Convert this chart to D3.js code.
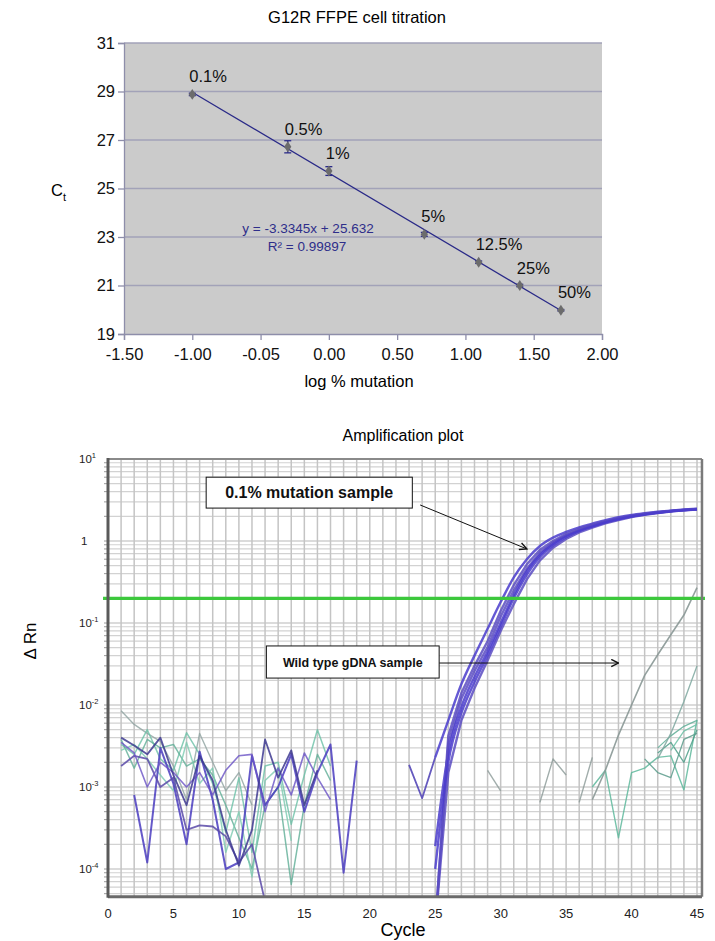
<!DOCTYPE html>
<html>
<head>
<meta charset="utf-8">
<script src="https://cdn.jsdelivr.net/npm/d3@7"></script>
<style>
  body { margin: 0; background: #fff; font-family: "Liberation Sans", Arial, Helvetica, sans-serif; }
  svg { display: block; }
</style>
</head>
<body>
<svg id="chart" width="715" height="941"></svg>
<script>
// -------------------------
// Top chart data (standard curve)
// -------------------------
const pctLabels = ["0.1%", "0.5%", "1%", "5%", "12.5%", "25%", "50%"];
const logPct = [-1, -0.301, 0, 0.699, 1.097, 1.398, 1.699];
const ctValues = [28.88, 26.72, 25.72, 23.11, 21.96, 21.0, 19.98];
const ctErr = [0.05, 0.25, 0.18, 0.08, 0.05, 0.05, 0.03];
const xTickVals = [-1.5, -1, -0.5, 0, 0.5, 1, 1.5, 2];
const xTickText = ["-1.50", "-1.00", "-0.05", "0.00", "0.50", "1.00", "1.50", "2.00"];
const yTickVals = [19, 21, 23, 25, 27, 29, 31];
const fitSlope = -3.3345;
const fitIntercept = 25.632;

// -------------------------
// Bottom chart data (amplification plot)
// -------------------------
const cycles = [25, 26, 27, 28, 29, 30, 31, 32, 33, 34, 35, 36, 37, 38, 39, 40, 41, 42, 43, 44, 45];
const mutA = [2e-5, 0.0034, 0.012, 0.026, 0.051, 0.12, 0.25, 0.46, 0.72, 0.96, 1.18, 1.37, 1.55, 1.72, 1.88, 2.02, 2.13, 2.23, 2.32, 2.39, 2.45];
const mutB = [2.3e-3, 6.5e-3, 0.018, 0.04, 0.085, 0.18, 0.36, 0.6, 0.87, 1.1, 1.29, 1.47, 1.63, 1.8, 1.95, 2.08, 2.18, 2.27, 2.35, 2.42, 2.48];
const mutC = [2e-5, 1.5e-3, 6.5e-3, 0.016, 0.035, 0.08, 0.17, 0.34, 0.58, 0.83, 1.06, 1.27, 1.46, 1.64, 1.8, 1.96, 2.08, 2.19, 2.29, 2.36, 2.42];
const mutD = [1.9e-4, 2.6e-3, 9.5e-3, 0.022, 0.045, 0.1, 0.22, 0.43, 0.68, 0.92, 1.15, 1.35, 1.52, 1.7, 1.86, 2.0, 2.12, 2.22, 2.31, 2.38, 2.44];
const mutE = [2e-5, 4.2e-3, 0.014, 0.03, 0.06, 0.14, 0.29, 0.52, 0.78, 1.0, 1.22, 1.41, 1.58, 1.75, 1.9, 2.04, 2.15, 2.25, 2.33, 2.4, 2.46];
const mutF = [1e-4, 2e-3, 8e-3, 0.019, 0.04, 0.09, 0.2, 0.39, 0.64, 0.88, 1.11, 1.32, 1.5, 1.68, 1.84, 1.99, 2.1, 2.21, 2.3, 2.37, 2.43];
const mutLead = [[23, 1.86e-3], [24, 7.3e-4], [25, 2.3e-3]];

// baseline noise traces, [cycle, delta Rn]
const noiseP1 = [[2, 8e-4], [3, 1.2e-4], [4, 3.0e-3], [5, 1.1e-3], [6, 2.0e-4], [7, 2.7e-3], [8, 7e-4], [9, 1e-4], [10, 1.2e-4], [11, 2.4e-3], [12, 6e-4], [13, 1.0e-3], [14, 2.5e-3], [15, 5e-4], [16, 1.5e-3], [17, 3.3e-3], [18, 9e-5], [19, 2.1e-3]];
const noiseP2 = [[1, 1.8e-3], [2, 2.4e-3], [3, 2.2e-3], [4, 1.0e-3], [5, 1.3e-3], [6, 3.0e-4], [7, 3.4e-4], [8, 3.3e-4], [9, 2.5e-4], [10, 1.2e-4], [11, 2.0e-4], [12, 4e-5]];
const noiseP3 = [[1, 3.5e-3], [2, 2.6e-3], [3, 1.0e-3], [4, 2.0e-3], [5, 1.5e-3], [6, 1.0e-3], [7, 1.5e-3], [8, 8e-4], [9, 1.6e-3], [10, 2.4e-3], [11, 2.5e-3], [12, 5e-4], [13, 1.7e-3], [14, 8e-4], [15, 2.6e-3], [16, 1.3e-3], [17, 7e-4]];
const noiseP4 = [[1, 4e-3], [2, 3.2e-3], [3, 2.5e-3], [4, 4.0e-3], [5, 1.4e-3], [6, 6e-4], [7, 2.4e-3], [8, 1.2e-3], [9, 3e-4], [10, 1.1e-4], [11, 3e-4], [12, 3.8e-3], [13, 1.3e-3], [14, 2.8e-3], [15, 6e-4], [16, 1.6e-3]];
const noiseT1 = [[1, 8.5e-3], [2, 5.8e-3], [3, 4.5e-3], [4, 3.6e-3], [5, 1.8e-3], [6, 7e-4], [7, 4.5e-3], [8, 2e-3], [9, 9e-4], [10, 1.5e-3], [11, 6e-4]];
const noiseT2 = [[1, 3.3e-3], [2, 2.5e-3], [3, 5e-3], [4, 2.2e-3], [5, 1.6e-3], [6, 4.6e-3], [7, 2.5e-3], [8, 1.1e-3], [9, 2.8e-4], [10, 1.3e-3], [11, 1.6e-4], [12, 1.8e-3], [13, 2.0e-3], [14, 3.5e-4], [15, 1.4e-3], [16, 5e-3], [17, 1.8e-3]];
const noiseT3 = [[1, 3.8e-3], [2, 1.7e-3], [3, 3.8e-3], [4, 3.0e-3], [5, 3.3e-3], [6, 1.8e-3], [7, 2.2e-3], [8, 1.4e-3], [9, 6e-4], [10, 2.4e-4], [11, 1.0e-4], [12, 6e-4], [13, 1.0e-3], [14, 6.5e-5], [15, 6e-4], [16, 2.5e-3], [17, 1.2e-3]];
const noiseT4 = [[1, 2.8e-3], [2, 3.3e-3], [3, 2.2e-3], [4, 1.4e-3], [5, 9e-4], [6, 3.5e-3], [7, 1.1e-3], [8, 1.7e-3], [9, 1.6e-4], [10, 5e-4], [11, 8e-5], [12, 1.2e-3], [13, 1.7e-3], [14, 2.2e-4]];

// late wild type traces
const lateG1 = [[29, 1.6e-3], [30, 9e-4]];
const lateG2 = [[33, 6.5e-4], [34, 2.2e-3], [35, 1.4e-3]];
const lateG3 = [[36, 6.5e-4], [37, 2.3e-3]];
const wtRise = [[37, 7e-4], [38, 1.6e-3], [39, 4.3e-3], [40, 1.0e-2], [41, 2.3e-2], [42, 4.1e-2], [43, 7.2e-2], [44, 0.125], [45, 0.27]];
const wtRise2 = [[42, 2.2e-3], [43, 4.5e-3], [44, 0.011], [45, 0.03]];
const wtT1 = [[37, 1.0e-3], [38, 1.6e-3], [39, 2.4e-4], [40, 1.5e-3], [41, 1.7e-3], [42, 2.3e-3], [43, 2.4e-3], [44, 9.2e-4], [45, 6.6e-3]];
const wtT2 = [[42, 3.0e-3], [43, 4.2e-3], [44, 5.5e-3], [45, 6.5e-3]];
const wtT3 = [[42, 2.6e-3], [43, 3.5e-3], [44, 2.0e-3], [45, 5.0e-3]];
const wtT4 = [[43, 2.8e-3], [44, 4.8e-3], [45, 5.8e-3]];
const wtT5 = [[41, 2.2e-3], [42, 1.5e-3], [43, 1.3e-3], [44, 3.8e-3], [45, 4.5e-3]];

const threshold = 0.2;
const cycleTicks = [0, 5, 10, 15, 20, 25, 30, 35, 40, 45];
const decadeTicks = [1e-4, 1e-3, 1e-2, 1e-1, 1, 10];
const decadeExp = ["-4", "-3", "-2", "-1", null, "1"];

const noteBoxes = [
  { text: "0.1% mutation sample", c0: 7.5, c1: 23.25, v0: 6.0, v1: 2.52, size: 16 },
  { text: "Wild type gDNA sample", c0: 12.1, c1: 25.3, v0: 0.0525, v1: 0.0213, size: 12.5 }
];
const noteArrows = [
  { from: [23.85, 2.75], to: [32.0, 0.80] },
  { from: [25.3, 0.0325], to: [39.0, 0.0325] }
];

const svg = d3.select('#chart');

// -------------------------
// Top chart
// -------------------------
const x1 = d3.scaleLinear().domain([-1.5, 2]).range([124, 602]);
const y1 = d3.scaleLinear().domain([19, 31]).range([334, 43]);

svg.append('text')
  .attr('x', 357).attr('y', 23)
  .attr('text-anchor', 'middle')
  .attr('font-size', 16.5)
  .text('G12R FFPE cell titration');

svg.append('rect')
  .attr('x', x1(-1.5)).attr('y', y1(31))
  .attr('width', x1(2) - x1(-1.5)).attr('height', y1(19) - y1(31))
  .attr('fill', '#cbcbcb');

// horizontal gridlines
svg.append('g').selectAll('line')
  .data(yTickVals.slice(1))
  .join('line')
  .attr('x1', x1(-1.5)).attr('x2', x1(2))
  .attr('y1', d => y1(d)).attr('y2', d => y1(d))
  .attr('stroke', '#a2a2b8').attr('stroke-width', 1.3);

const xAxis1 = svg.append('g')
  .attr('transform', `translate(0,${y1(19)})`)
  .call(d3.axisBottom(x1).tickValues(xTickVals).tickFormat((d, i) => xTickText[i]).tickSize(6).tickPadding(8));
const yAxis1 = svg.append('g')
  .attr('transform', `translate(${x1(-1.5)},0)`)
  .call(d3.axisLeft(y1).tickValues(yTickVals).tickSize(6).tickPadding(3));
[xAxis1, yAxis1].forEach(g => {
  g.select('.domain').attr('stroke', '#8e8eaa').attr('stroke-width', 1.3);
  g.selectAll('.tick line').attr('stroke', '#8e8eaa').attr('stroke-width', 1.3);
  g.selectAll('.tick text').attr('font-size', 16.5).attr('fill', '#111')
    .attr('font-family', '"Liberation Sans", Arial, sans-serif');
});

// trend line
svg.append('line')
  .attr('x1', x1(logPct[0])).attr('y1', y1(fitSlope * logPct[0] + fitIntercept))
  .attr('x2', x1(logPct[6])).attr('y2', y1(fitSlope * logPct[6] + fitIntercept))
  .attr('stroke', '#2a2a88').attr('stroke-width', 1.3);

// error bars
const errG = svg.append('g').attr('stroke', '#2a2a88').attr('stroke-width', 1.3);
logPct.forEach((lx, i) => {
  const cx = x1(lx);
  const top = y1(ctValues[i] + ctErr[i]);
  const bot = y1(ctValues[i] - ctErr[i]);
  errG.append('line').attr('x1', cx).attr('x2', cx).attr('y1', top).attr('y2', bot);
  errG.append('line').attr('x1', cx - 3.5).attr('x2', cx + 3.5).attr('y1', top).attr('y2', top);
  errG.append('line').attr('x1', cx - 3.5).attr('x2', cx + 3.5).attr('y1', bot).attr('y2', bot);
});

// markers
svg.append('g').selectAll('path')
  .data(logPct)
  .join('path')
  .attr('d', d3.symbol(d3.symbolDiamond, 34))
  .attr('transform', (d, i) => `translate(${x1(d)},${y1(ctValues[i])}) scale(1.15,1)`)
  .attr('fill', '#6c6c6c');

// point labels
svg.append('g').selectAll('text')
  .data(pctLabels)
  .join('text')
  .attr('x', (d, i) => x1(logPct[i]) - 3)
  .attr('y', (d, i) => y1(ctValues[i]) - 12)
  .attr('font-size', 16.5)
  .attr('fill', '#111')
  .text(d => d);

// equation
svg.append('text')
  .attr('x', 308).attr('y', 233)
  .attr('text-anchor', 'middle').attr('font-size', 13.5).attr('fill', '#2e2e8a')
  .text('y = -3.3345x + 25.632');
svg.append('text')
  .attr('x', 307).attr('y', 251)
  .attr('text-anchor', 'middle').attr('font-size', 13.5).attr('fill', '#2e2e8a')
  .text('R² = 0.99897');

// axis titles
svg.append('text')
  .attr('x', x1(0.25) - 4).attr('y', 387)
  .attr('text-anchor', 'middle').attr('font-size', 16.5)
  .text('log % mutation');
const ctLabel = svg.append('text').attr('x', 51).attr('y', 196).attr('font-size', 16.5);
ctLabel.append('tspan').text('C');
ctLabel.append('tspan').attr('font-size', 11).attr('dy', 5).text('t');

// -------------------------
// Bottom chart
// -------------------------
const x2 = d3.scaleLinear().domain([0, 45]).range([108, 697]);
const y2 = d3.scaleLog().domain([1e-4, 10]).range([869, 459]);
const xEnd = 45.38;
const yBottom = 4.6e-5;
const plotL = x2(0), plotR = x2(xEnd), plotT = y2(10), plotB = y2(yBottom);

svg.append('text')
  .attr('x', 403).attr('y', 441)
  .attr('text-anchor', 'middle').attr('font-size', 16)
  .text('Amplification plot');

svg.append('defs').append('clipPath').attr('id', 'plotClip')
  .append('rect')
  .attr('x', plotL).attr('y', plotT)
  .attr('width', plotR - plotL).attr('height', plotB - plotT);

// grid
const grid = svg.append('g');
const minorVals = [];
[1e-5, 1e-4, 1e-3, 1e-2, 1e-1, 1].forEach(dec => {
  for (let m = 1; m <= 9; m++) minorVals.push(dec * m);
});
grid.selectAll('line.h')
  .data(minorVals.filter(v => v >= yBottom && v <= 10))
  .join('line')
  .attr('class', 'h')
  .attr('x1', plotL).attr('x2', plotR)
  .attr('y1', d => y2(d)).attr('y2', d => y2(d))
  .attr('stroke', d => decadeTicks.some(t => Math.abs(t - d) / t < 1e-6) ? '#b8b8b8' : '#d2d2d2')
  .attr('stroke-width', 1.2);
grid.selectAll('line.v')
  .data(d3.range(1, 46))
  .join('line')
  .attr('class', 'v')
  .attr('x1', d => x2(d)).attr('x2', d => x2(d))
  .attr('y1', plotT).attr('y2', plotB)
  .attr('stroke', '#c4c4c4').attr('stroke-width', 1.5);
// left ruler ticks
grid.selectAll('line.r')
  .data(minorVals.filter(v => v >= yBottom && v <= 10))
  .join('line')
  .attr('class', 'r')
  .attr('x1', plotL - 4).attr('x2', plotL)
  .attr('y1', d => y2(d)).attr('y2', d => y2(d))
  .attr('stroke', '#9a9a9a').attr('stroke-width', 1);

// traces
const plot = svg.append('g').attr('clip-path', 'url(#plotClip)');
const line2 = d3.line()
  .defined(d => d[1] != null)
  .curve(d3.curveMonotoneX)
  .x(d => x2(d[0]))
  .y(d => y2(d[1]));
const jag = d3.line()
  .defined(d => d[1] != null)
  .x(d => x2(d[0]))
  .y(d => y2(d[1]));

function drawTrace(pts, color, width, opacity, gen = jag) {
  plot.append('path')
    .datum(pts)
    .attr('d', gen)
    .attr('fill', 'none')
    .attr('stroke', color)
    .attr('stroke-width', width)
    .attr('stroke-opacity', opacity)
    .attr('stroke-linejoin', 'round');
}

// baseline noise
drawTrace(noiseT1, '#8fa3a0', 1.4, 0.8);
drawTrace(noiseT2, '#6cc0a6', 1.5, 0.8);
drawTrace(noiseT3, '#5fae96', 1.5, 0.8);
drawTrace(noiseT4, '#7ccab0', 1.5, 0.8);
drawTrace(noiseP1, '#4a3cc0', 2, 0.85);
drawTrace(noiseP2, '#5b4aa8', 1.8, 0.85);
drawTrace(noiseP3, '#6a52c6', 1.6, 0.8);
drawTrace(noiseP4, '#3e3a90', 1.8, 0.85);

// late wild type traces
drawTrace(lateG1, '#8a9896', 1.4, 0.8);
drawTrace(lateG2, '#8a9896', 1.4, 0.8);
drawTrace(lateG3, '#8a9896', 1.4, 0.8);
drawTrace(wtT1, '#5fb89c', 1.4, 0.85);
drawTrace(wtT2, '#5fae96', 1.3, 0.85);
drawTrace(wtT3, '#4f9e88', 1.3, 0.85);
drawTrace(wtT4, '#6cc0a6', 1.3, 0.85);
drawTrace(wtT5, '#5c9c8c', 1.3, 0.85);
drawTrace(wtRise2, '#7fa8a0', 1.4, 0.85);
drawTrace(wtRise, '#8a9896', 1.6, 0.9);

// 0.1% mutation amplification curves
drawTrace(mutLead, '#5548b8', 1.8, 0.9);
[mutA, mutB, mutC, mutD, mutE, mutF].forEach((vals, k) => {
  drawTrace(cycles.map((c, i) => [c, vals[i]]), k % 2 ? '#4a3ccc' : '#5a4cc2', 2.4, 0.85,
    vals[0] < 1e-4 ? jag : line2);
});

// threshold
svg.append('line')
  .attr('x1', plotL - 5).attr('x2', plotR + 3)
  .attr('y1', y2(threshold)).attr('y2', y2(threshold))
  .attr('stroke', '#3cc83c').attr('stroke-width', 3.2);

// frame
const frame = svg.append('g').attr('fill', 'none');
frame.append('line').attr('x1', plotL).attr('x2', plotR).attr('y1', plotT).attr('y2', plotT)
  .attr('stroke', '#8a8a8a').attr('stroke-width', 2);
frame.append('line').attr('x1', plotR).attr('x2', plotR).attr('y1', plotT).attr('y2', plotB)
  .attr('stroke', '#7a7a7a').attr('stroke-width', 2.5);
frame.append('line').attr('x1', plotL).attr('x2', plotR).attr('y1', plotB).attr('y2', plotB)
  .attr('stroke', '#6a6a6a').attr('stroke-width', 3);
frame.append('line').attr('x1', plotL).attr('x2', plotL).attr('y1', plotT - 1).attr('y2', plotB + 1)
  .attr('stroke', '#5a5a5a').attr('stroke-width', 3);

// x tick labels
svg.append('g').selectAll('text')
  .data(cycleTicks)
  .join('text')
  .attr('x', d => x2(d)).attr('y', 918)
  .attr('text-anchor', 'middle').attr('font-size', 13).attr('fill', '#222')
  .text(d => d);

// y tick labels
const yLab = svg.append('g').selectAll('text')
  .data(decadeTicks)
  .join('text')
  .attr('x', (d, i) => decadeExp[i] === null ? 81 : 79)
  .attr('y', d => y2(d) + 4)
  .attr('font-size', 11.5).attr('fill', '#222');
yLab.append('tspan').text((d, i) => decadeExp[i] === null ? '1' : '10');
yLab.append('tspan').attr('font-size', 7.5).attr('dy', -5)
  .text((d, i) => decadeExp[i] === null ? '' : decadeExp[i]);

svg.append('text')
  .attr('transform', 'translate(36,641) rotate(-90)')
  .attr('text-anchor', 'middle').attr('font-size', 17)
  .text('Δ Rn');
svg.append('text')
  .attr('x', 403).attr('y', 936)
  .attr('text-anchor', 'middle').attr('font-size', 18)
  .text('Cycle');

// annotations
svg.append('defs').append('marker')
  .attr('id', 'arrowHead')
  .attr('viewBox', '0 0 10 10')
  .attr('refX', 9).attr('refY', 5)
  .attr('markerWidth', 9).attr('markerHeight', 9)
  .attr('markerUnits', 'userSpaceOnUse')
  .attr('orient', 'auto')
  .append('path')
  .attr('d', 'M1,1 L9,5 L1,9')
  .attr('fill', 'none').attr('stroke', '#111').attr('stroke-width', 1.6);

svg.append('g').selectAll('line')
  .data(noteArrows)
  .join('line')
  .attr('x1', d => x2(d.from[0])).attr('y1', d => y2(d.from[1]))
  .attr('x2', d => x2(d.to[0])).attr('y2', d => y2(d.to[1]))
  .attr('stroke', '#111').attr('stroke-width', 1)
  .attr('marker-end', 'url(#arrowHead)');

const notes = svg.append('g').selectAll('g')
  .data(noteBoxes)
  .join('g');
notes.append('rect')
  .attr('x', d => x2(d.c0)).attr('y', d => y2(d.v0))
  .attr('width', d => x2(d.c1) - x2(d.c0)).attr('height', d => y2(d.v1) - y2(d.v0))
  .attr('fill', '#fff').attr('stroke', '#111').attr('stroke-width', 1);
notes.append('text')
  .attr('x', d => (x2(d.c0) + x2(d.c1)) / 2)
  .attr('y', d => (y2(d.v0) + y2(d.v1)) / 2)
  .attr('dy', '0.36em')
  .attr('text-anchor', 'middle')
  .attr('font-weight', 'bold')
  .attr('font-size', d => d.size)
  .attr('fill', '#111')
  .text(d => d.text);
</script>
</body>
</html>
